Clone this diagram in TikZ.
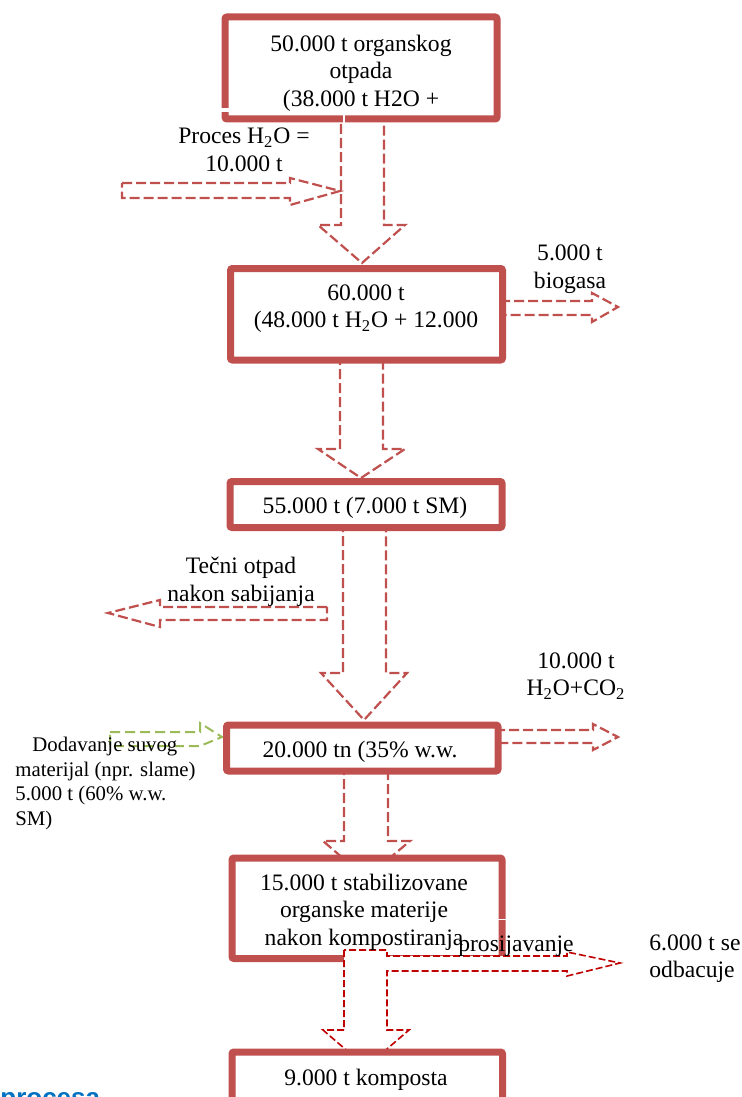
\documentclass[tikz,border=0pt]{standalone}
\usepackage{fontspec}
\setmainfont{Liberation Serif}
\newfontfamily\bluefont{Liberation Sans}
\usetikzlibrary{calc}
\definecolor{boxred}{HTML}{C0504D}
\definecolor{darkred}{HTML}{C00000}
\definecolor{olivegreen}{HTML}{9BBB59}
\definecolor{headblue}{HTML}{0070C0}
\begin{document}
\begin{tikzpicture}[x=0.5pt,y=-0.5pt,
  box/.style={draw=boxred, line width=3.5pt, fill=white, rounded corners=1pt, inner sep=0pt},
  flow/.style={draw=boxred, line width=1.1pt, dash pattern=on 5pt off 2pt, fill=white},
  flowdark/.style={draw=darkred, line width=0.8pt, dash pattern=on 3.5pt off 1.5pt, fill=white},
  flowgreen/.style={draw=olivegreen, line width=1pt, dash pattern=on 5pt off 2.5pt, fill=white},
  lbl/.style={font=\fontsize{11.8}{13.8}\selectfont, align=center, inner sep=0pt},
]
\useasboundingbox (0,0) rectangle (741,1097);
\clip (0,0) rectangle (741,1097);

% block arrows behind the boxes
\draw[flow] (341,110) -- (341,225) -- (318,225) -- (362,263) -- (405,225) -- (384,225) -- (384,110);
\draw[flow] (122,183) -- (290,183) -- (290,178) -- (340,191) -- (290,205) -- (290,198) -- (122,198) -- cycle;
\draw[flow] (500,301) -- (592,301) -- (592,293) -- (618,307) -- (592,322) -- (592,315) -- (500,315);
\draw[flow] (340,355) -- (340,449) -- (318,449) -- (361,478) -- (405,449) -- (383,449) -- (383,355);
\draw[flow] (343,522) -- (343,673) -- (321,673) -- (364,720) -- (407,673) -- (386,673) -- (386,522);
\draw[flow] (327,607) -- (160,607) -- (160,600) -- (108,613) -- (160,627) -- (160,620) -- (327,620) -- cycle;
\draw[flow] (495,730) -- (593,730) -- (593,724) -- (618,737) -- (593,750) -- (593,743) -- (495,743);
\draw[flowgreen] (110,732) -- (200,732) -- (200,723) -- (222,737) -- (200,746) -- (110,746) -- cycle;
\draw[flow] (344,765) -- (344,841) -- (323,841) -- (366,878) -- (410,841) -- (388,841) -- (388,765);

% boxes
\node[box, minimum width=136pt, minimum height=51pt] (b1) at (361,68) {};
\node[box, minimum width=136pt, minimum height=45.75pt] (b2) at (366.5,314.25) {};
\node[box, minimum width=136pt, minimum height=23pt] (b3) at (366,504.5) {};
\node[box, minimum width=135.75pt, minimum height=23pt] (b4) at (362.25,748) {};
\node[box, minimum width=135pt, minimum height=50.25pt] (b5) at (367,908.25) {};

% small white gaps in the box borders
\fill[white] (219,108.5) rectangle (231,112.5);
\fill[white] (342.8,113) rectangle (344.8,125);
\fill[white] (496,918.8) rectangle (508,920.3);

% arrow out of the last-but-one box, with the branch to the right
\draw[flowdark] (344,950) -- (344,1030) -- (323,1030) -- (366,1067) -- (409,1030) -- (387,1030)
  -- (387,971) -- (567,971) -- (567,976) -- (620,963) -- (567,952) -- (567,956) -- (387,956) -- (387,950) -- cycle;

\node[box, minimum width=135.25pt, minimum height=39pt] (b6) at (367.25,1091) {};

% texts
\node[lbl] (t1) at (361,73) {50.000 t organskog\\otpada\\(38.000 t H2O +};
\node[lbl] (t2) at (366,308.5) {60.000 t\\(48.000 t H\textsubscript{2}O + 12.000};
\node[lbl] (t3) at (365,508) {55.000 t (7.000 t SM)};
\node[lbl] (t4) at (360,752) {20.000 tn (35\% w.w.};
\node[lbl] (t5) at (364,912) {15.000 t stabilizovane\\organske materije\\nakon kompostiranja};
\node[lbl] (t6) at (366,1080) {9.000 t komposta};

\node[lbl] (lp) at (244,150) {Proces H\textsubscript{2}O =\\10.000 t};
\node[lbl] (lb) at (570,269) {5.000 t\\biogasa};
\node[lbl] (lt) at (241,582) {Tečni otpad\\nakon sabijanja};
\node[lbl] (lh) at (576,676) {10.000 t\\H\textsubscript{2}O+CO\textsubscript{2}};
\node[lbl] (lpr) at (516,946) {prosijavanje};
\node[lbl, align=left, anchor=west] (lo) at (649,958.5) {6.000 t se\\odbacuje};
\node[inner sep=0pt, align=left, anchor=west, font=\fontsize{10.4}{12.25}\selectfont] (ld) at (15,783.5)
  {\hspace*{8.5pt}Dodavanje suvog\\materijal (npr. slame)\\5.000 t (60\% w.w.\\SM)};

\node[anchor=base west, inner sep=0pt, font=\bluefont\bfseries\fontsize{13}{15}\selectfont, text=headblue] (hb) at (0,1106.5) {procesa};
\end{tikzpicture}
\end{document}
